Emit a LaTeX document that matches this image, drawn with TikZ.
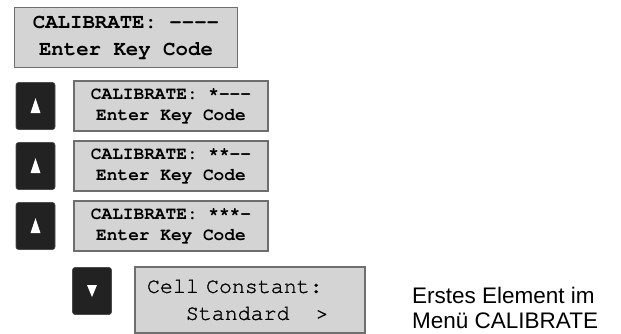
\documentclass[tikz,border=0pt]{standalone}
\usepackage{fontspec}
\setmainfont{Liberation Sans}
\newfontfamily\lcdfont{texgyrecursor}[Extension=.otf, UprightFont=*-regular, BoldFont=*-bold]
\newfontfamily\lcdmedium{texgyrecursor}[Extension=.otf, UprightFont=*-regular, FakeBold=1.2]
\usepackage{xcolor}
\definecolor{lcdgrey}{RGB}{212,212,212}
\definecolor{lcdframe}{RGB}{110,110,110}
\definecolor{keyblack}{RGB}{34,34,34}
\usetikzlibrary{positioning}
\begin{document}
\begin{tikzpicture}[x=1pt,y=-1pt,
        lcd/.style={draw=lcdframe, fill=lcdgrey, line width=1.4pt, inner sep=0pt, align=center},
        lcdbig/.style={lcd, minimum width=223pt, minimum height=60pt, font={\lcdfont\bfseries\fontsize{20.7}{27}\selectfont\spaceskip 0.6em\relax}},
        lcdsmall/.style={lcd, minimum width=194pt, minimum height=50pt, font={\lcdfont\bfseries\fontsize{17.8}{21}\selectfont\spaceskip 0.6em\relax}},
        keybox/.style={fill=keyblack, draw=gray!60!black, line width=0.6pt, rounded corners=2.5pt, minimum width=39pt, minimum height=47pt, inner sep=0pt},
        keyup/.style={keybox, path picture={\fill[white, sharp corners] (path picture bounding box.center) ++(0,-8) -- ++(5,15) -- ++(-10,0) -- cycle;}},
        keydown/.style={keybox, path picture={\fill[white, sharp corners] (path picture bounding box.center) ++(0,6) -- ++(5,-12) -- ++(-10,0) -- cycle;}}]
        \useasboundingbox (0,0) rectangle (621,333);                            % Rahmen
        \node[lcdbig] (start) at (126,37.5) {CALIBRATE: ----\\Enter Key Code};  % Startanzeige
        \node[lcdsmall] (code1) at (171,106) {CALIBRATE: *---\\Enter Key Code}; % 1. Ziffer
        \node[lcdsmall] (code2) at (171,166) {CALIBRATE: **--\\Enter Key Code}; % 2. Ziffer
        \node[lcdsmall] (code3) at (171,226) {CALIBRATE: ***-\\Enter Key Code}; % 3. Ziffer
        \node[keyup, left=18pt of code1] (up1) {};                              % Taste hoch
        \node[keyup, left=18pt of code2] (up2) {};                              % Taste hoch
        \node[keyup, left=18pt of code3] (up3) {};                              % Taste hoch
        \node[lcd, text width=206pt, inner xsep=12pt, minimum height=66pt, align=left,
              font={\lcdmedium\fontsize{21.6}{27}\selectfont\spaceskip 0.6em\relax}] (cell) at (250,300)
              {Cell Constant:\\\hphantom{Cel}Standard\hphantom{xx}>};           % Zellkonstante
        \node[keydown] (down) at (92,291) {};                                   % Taste runter
        \node[anchor=north west, inner sep=0pt, align=left,
              font=\fontsize{22.5}{25}\selectfont] (note) at (412,287)
              {Erstes Element im\\Menü CALIBRATE};                              % Hinweis
    \end{tikzpicture}
\end{document}
